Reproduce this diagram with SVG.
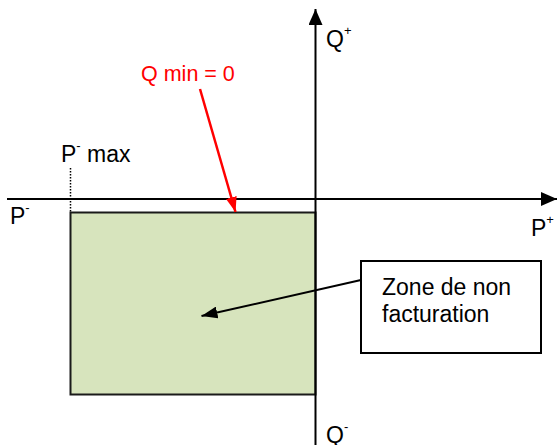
<svg xmlns="http://www.w3.org/2000/svg" width="558" height="445" viewBox="0 0 558 445">
<defs>
<style>
text{font-family:"Liberation Sans",Arial,sans-serif;font-size:23px;fill:#000}
.sup{font-size:13px}
.red{fill:#ff0000;font-size:21.5px}
.ax{stroke:#000;stroke-width:2;fill:none}
</style>
<marker id="blk" viewBox="0 0 16 14" refX="16" refY="7" markerWidth="16" markerHeight="14" markerUnits="userSpaceOnUse" orient="auto"><path d="M0,0 L16,7 L0,14 Z" fill="#000"/></marker>
<marker id="blk2" viewBox="0 0 16 12" refX="16" refY="6" markerWidth="16" markerHeight="12" markerUnits="userSpaceOnUse" orient="auto"><path d="M0,0 L16,6 L0,12 Z" fill="#000"/></marker>
<marker id="redm" viewBox="0 0 15 11" refX="15" refY="5.5" markerWidth="15" markerHeight="11" markerUnits="userSpaceOnUse" orient="auto"><path d="M0,0 L15,5.5 L0,11 Z" fill="#ff0000"/></marker>
</defs>
<rect width="558" height="445" fill="#fff"/>
<g id="zone">
<rect x="70.5" y="212.5" width="245" height="182" fill="#d7e4bd" stroke="#1a1a1a" stroke-width="2"/>
</g>
<g id="connectors">
<line class="ax" x1="7" y1="199" x2="557" y2="199" marker-end="url(#blk)"/>
<line class="ax" x1="315.5" y1="445" x2="315.5" y2="9" marker-end="url(#blk)"/>
<line x1="70.5" y1="168" x2="70.5" y2="212" stroke="#000" stroke-width="1.5" stroke-dasharray="1.5,1.5"/>
<line x1="200" y1="89" x2="235.5" y2="212" stroke="#ff0000" stroke-width="2.5" marker-end="url(#redm)"/>
<line x1="361" y1="280" x2="201.5" y2="316" stroke="#000" stroke-width="2" marker-end="url(#blk2)"/>
</g>
<g id="label-box">
<rect x="361" y="261" width="180" height="92" fill="#fff" stroke="#000" stroke-width="2"/>
<text x="382" y="295">Zone de non</text>
<text x="382" y="322">facturation</text>
</g>
<g id="labels">
<text x="326" y="47">Q<tspan class="sup" dy="-12">+</tspan></text>
<text x="326" y="443">Q<tspan class="sup" dy="-12">-</tspan></text>
<text x="531" y="236">P<tspan class="sup" dy="-12">+</tspan></text>
<text x="10" y="224">P<tspan class="sup" dy="-12">-</tspan></text>
<text x="61" y="162">P<tspan class="sup" dy="-12">-</tspan><tspan dy="12"> max</tspan></text>
<text class="red" x="141" y="81">Q min = 0</text>
</g>
</svg>
